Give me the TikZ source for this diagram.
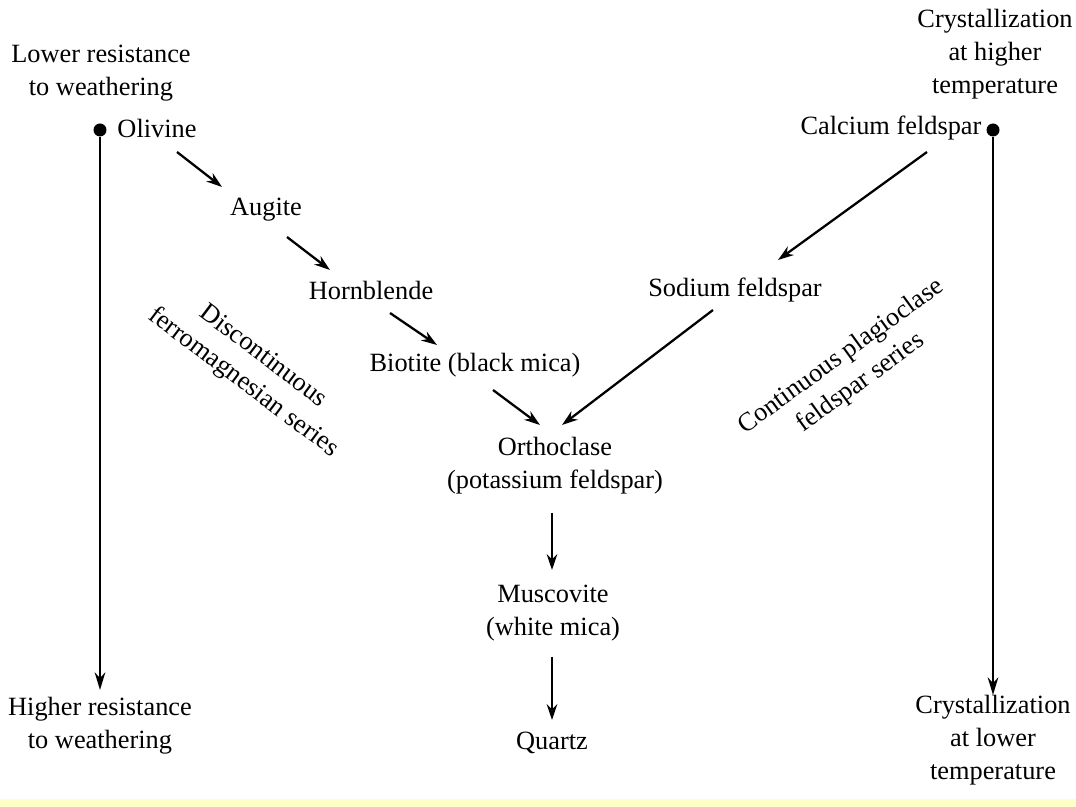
\documentclass[tikz,border=0pt]{standalone}
\usepackage{fontspec}
\setmainfont{Liberation Serif}
\usetikzlibrary{arrows.meta}
\definecolor{paleyellow}{RGB}{255,255,200}

\begin{document}
\begin{tikzpicture}[x=0.02cm, y=-0.02cm,
  mineral/.style={align=center, inner sep=0pt, font=\fontsize{15}{18.7}\selectfont},
  dotnode/.style={circle, fill=black, inner sep=0pt, minimum size=2.6mm},
  arr/.style={-{Stealth[length=9pt, width=6pt]}, line width=1.3pt},
  axisline/.style={-{Stealth[length=10pt, width=6pt]}, line width=1.6pt}]
\useasboundingbox (0,0) rectangle (1076,807);
\fill[paleyellow] (0,799) rectangle (1076,807);
% Nodes
\node[mineral] (lowres) at (101,73) {Lower resistance\\to weathering};
\node[mineral] (hires) at (100,726) {Higher resistance\\to weathering};
\node[mineral] (hightemp) at (995,54) {Crystallization\\at higher\\temperature};
\node[mineral] (lowtemp) at (993,740) {Crystallization\\at lower\\temperature};
\node[dotnode] (ldot) at (100,130) {};
\node[dotnode] (rdot) at (993,130) {};
\node[mineral] (olivine) at (157,128) {Olivine};
\node[mineral] (augite) at (266,210) {Augite};
\node[mineral] (hornblende) at (371,290) {Hornblende};
\node[mineral] (biotite) at (475,365) {Biotite (black mica)};
\node[mineral] (calcium) at (891,128) {Calcium feldspar};
\node[mineral] (sodium) at (735,290) {Sodium feldspar};
\node[mineral] (orthoclase) at (555,466) {Orthoclase\\(potassium feldspar)};
\node[mineral] (muscovite) at (553,613) {Muscovite\\(white mica)};
\node[mineral] (quartz) at (552,743) {Quartz};
\node[mineral, rotate=-37] (discont) at (253,370) {Discontinuous\\ferromagnesian series};
\node[mineral, rotate=36] (cont) at (851,370) {Continuous plagioclase\\feldspar series};
% Connectors
\draw[axisline] (ldot) -- ([shift={(0,-36)}]hires.center);
\draw[axisline] (rdot) -- ([shift={(0,-45)}]lowtemp.center);
\draw[arr] ([shift={(20,24)}]olivine.center) -- ([shift={(-44,-23)}]augite.center);
\draw[arr] ([shift={(21,27)}]augite.center) -- ([shift={(-41,-20)}]hornblende.center);
\draw[arr] ([shift={(19,23)}]hornblende.center) -- ([shift={(-38,-20)}]biotite.center);
\draw[arr] ([shift={(18,25)}]biotite.center) -- ([shift={(-15,-41)}]orthoclase.center);
\draw[arr] ([shift={(36,24)}]calcium.center) -- ([shift={(43,-30)}]sodium.center);
\draw[arr] ([shift={(-22,20)}]sodium.center) -- ([shift={(7,-41)}]orthoclase.center);
\draw[arr] ([shift={(-3,47)}]orthoclase.center) -- ([shift={(-1,-43)}]muscovite.center);
\draw[arr] ([shift={(-1,44)}]muscovite.center) -- ([shift={(0,-23)}]quartz.center);
\end{tikzpicture}
\end{document}
